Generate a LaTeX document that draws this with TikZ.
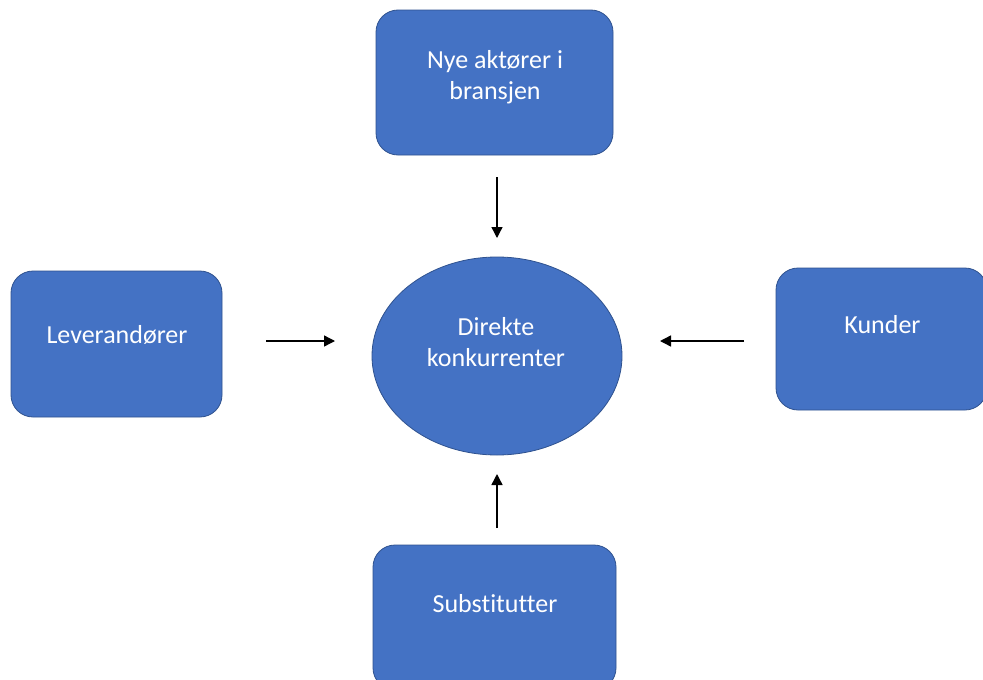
\documentclass[tikz,border=0pt]{standalone}
\usepackage{fontspec}
\setmainfont{Carlito}[Ligatures=NoCommon]
\usetikzlibrary{shapes.geometric,arrows.meta,calc}
\definecolor{boxfill}{HTML}{4472C4}
\definecolor{boxline}{HTML}{2F528F}
\tikzset{
  shapebox/.style={draw=boxline, line width=0.8pt, fill=boxfill, rounded corners=22pt, inner sep=0pt},
  ellbox/.style={ellipse, draw=boxline, line width=0.8pt, fill=boxfill, inner sep=0pt},
  lbl/.style={text=white, font=\fontsize{26}{31}\selectfont, align=center, inner sep=0pt},
  conn/.style={draw=black, line width=1.4pt, -{Triangle[length=11pt,width=11pt]}}
}
\begin{document}
\begin{tikzpicture}[x=1pt,y=-1pt]
\useasboundingbox (0,0) rectangle (983,680);
\clip (0,0) rectangle (983,680);
\fill[white] (0,0) rectangle (983,680);
% boxes
\node[shapebox, minimum width=237pt, minimum height=145pt] (top) at (494.5,82.5) {};
\node[shapebox, minimum width=211pt, minimum height=146pt] (left) at (116.5,344) {};
\node[shapebox, minimum width=211pt, minimum height=142pt] (right) at (881.5,339) {};
\node[shapebox, minimum width=243pt, minimum height=145pt] (bottom) at (494.5,617.5) {};
\node[ellbox, minimum width=250pt, minimum height=198pt] (ell) at (497,356) {};
% labels
\node[lbl, anchor=center] (toptext) at (495,77) {Nye aktører i\\bransjen};
\node[lbl, anchor=base] (lefttext) at (117,343) {Leverandører};
\node[lbl, anchor=base] (righttext) at (882.5,333) {Kunder};
\node[lbl, anchor=base] (bottomtext) at (495,612) {Substitutter};
\node[lbl, anchor=center] (elltext) at (496,342) {Direkte\\konkurrenter};
% arrow end points
\coordinate (ts) at (497,177); \coordinate (te) at (497,238);
\coordinate (ls) at (266,341); \coordinate (le) at (335,341);
\coordinate (rs) at (744,341); \coordinate (re) at (660,341);
\coordinate (bs) at (497,528); \coordinate (be) at (497,474);
\draw[conn] (ts) -- (te);
\draw[conn] (ls) -- (le);
\draw[conn] (rs) -- (re);
\draw[conn] (bs) -- (be);
\end{tikzpicture}
\end{document}
